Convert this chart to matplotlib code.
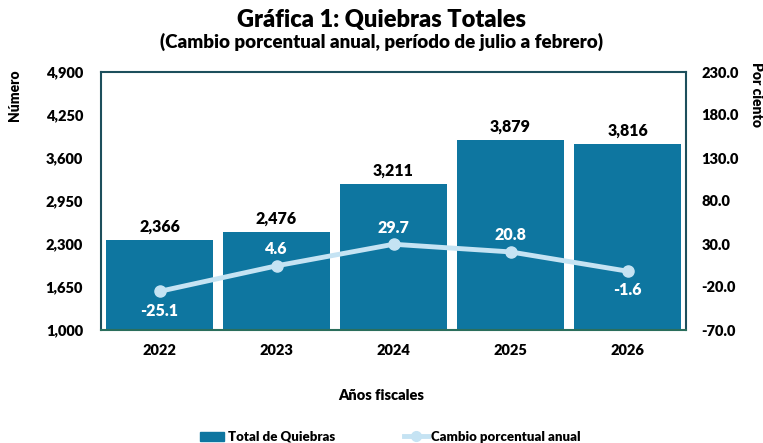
import matplotlib
matplotlib.use("Agg")
import matplotlib.pyplot as plt
from matplotlib.lines import Line2D
from matplotlib.patches import Patch

years = ["2022", "2023", "2024", "2025", "2026"]
totals = [2366, 2476, 3211, 3879, 3816]
pct = [-25.1, 4.6, 29.7, 20.8, -1.6]
left_ticks = [1000, 1650, 2300, 2950, 3600, 4250, 4900]
right_ticks = [-70, -20, 30, 80, 130, 180, 230]

plt.rcParams['font.family'] = ['Lato', 'DejaVu Sans']
plt.rcParams['font.weight'] = 'heavy'
W = 'heavy'

bar_color = "#0e76a0"
line_color = "#c5e3f3"

fig = plt.figure(figsize=(7.63, 4.43), dpi=100)
ax = fig.add_axes([101/763, 1-330/443, 585/763, 258/443])
x = list(range(len(years)))
ax.bar(x, totals, width=0.91, color=bar_color, zorder=2)
ax.set_xlim(-0.5, 4.5)
ax.set_ylim(1000, 4900)
ax.set_yticks(left_ticks)
ax.set_yticklabels([f"{v:,}" for v in left_ticks], fontsize=10.5, fontweight=W)
ax.set_xticks(x)
ax.set_xticklabels(years, fontsize=10.5, fontweight=W)
ax.tick_params(axis='both', length=0, pad=10)
ax.tick_params(axis='y', pad=13)
for s in ['top', 'left', 'right']:
    ax.spines[s].set_color("#1d4f5c")
    ax.spines[s].set_linewidth(1.5)
ax.spines['bottom'].set_color("#2a6e5c")
ax.spines['bottom'].set_linewidth(1.5)
for i, v in enumerate(totals):
    ax.text(i, v + 80, f"{v:,}", ha='center', va='bottom', fontsize=11.5, fontweight=W, color='black')

ax2 = ax.twinx()
ax2.plot(x, pct, color=line_color, lw=3.5, marker='o', ms=8, zorder=3)
ax2.set_ylim(-70, 230)
ax2.set_yticks(right_ticks)
ax2.set_yticklabels([f"{v:.1f}" for v in right_ticks], fontsize=10.5, fontweight=W)
ax2.tick_params(axis='y', length=0, pad=11)
for s in ax2.spines.values():
    s.set_visible(False)
for i, v in enumerate(pct):
    if i in (0, 4):
        ax2.text(i, v - 13, f"{v}", ha='center', va='top', fontsize=11.5, fontweight=W, color='white')
    else:
        ax2.text(i, v + 10, f"{v}", ha='center', va='bottom', fontsize=11.5, fontweight=W, color='white')

fig.text(0.5, 1-20/443, "Gráfica 1: Quiebras Totales", ha='center', va='center', fontsize=17, fontweight=W)
fig.text(0.5, 1-42/443, "(Cambio porcentual anual, período de julio a febrero)", ha='center', va='center', fontsize=13.5, fontweight=W)
fig.text(15/763, 1-95/443, "Número", rotation=90, ha='center', va='center', fontsize=10, fontweight=W)
fig.text(757/763, 1-95/443, "Por ciento", rotation=-90, ha='center', va='center', fontsize=10, fontweight=W)
fig.text(0.5, 1-395/443, "Años fiscales", ha='center', va='center', fontsize=10.5, fontweight=W)

handles = [Patch(color=bar_color, label="Total de Quiebras"),
           Line2D([0], [0], color=line_color, lw=3.5, marker='o', ms=7, label="Cambio porcentual anual")]
fig.legend(handles=handles, loc='center', bbox_to_anchor=(0.512, 1-437/443), ncol=2, frameon=False,
           columnspacing=5.2, handlelength=1.8, handletextpad=0.3,
           prop={'weight': W, 'size': 9.5})

fig.savefig("out.png", dpi=100)
